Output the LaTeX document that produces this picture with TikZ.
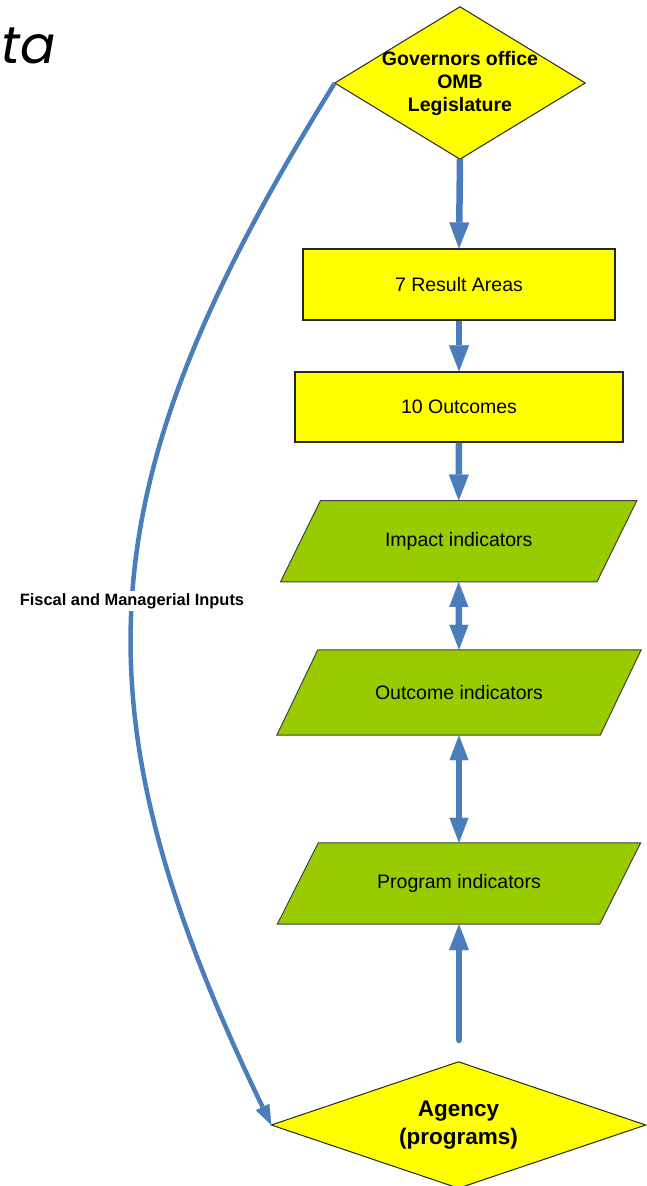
\documentclass[tikz,border=0pt]{standalone}
\usepackage{fontspec}
\setmainfont{Liberation Sans}
\newfontfamily\titlefont{Poppins}
\usetikzlibrary{arrows.meta,backgrounds}
\definecolor{ayellow}{HTML}{FFFF00}
\definecolor{agreen}{HTML}{99CC00}
\definecolor{ablue}{HTML}{4A7EBB}
\begin{document}
\begin{tikzpicture}[x=1pt,y=-1pt,
  box/.style={draw=black!85, line width=1.2pt, fill=ayellow, inner sep=0pt, font=\fontsize{19.5}{23}\selectfont},
  para/.style={inner sep=0pt, font=\fontsize{19.5}{23}\selectfont},
  parashape/.style={draw=black!75, line width=1pt, fill=agreen},
  dia/.style={inner sep=0pt, align=center, font=\bfseries\fontsize{19.5}{23}\selectfont},
  diashape/.style={draw=black!85, line width=1pt, fill=ayellow},
  flow/.style={draw=ablue, line width=6.5pt, -{Triangle[length=26pt,width=20pt,line width=0.1pt]}},
  dflow/.style={draw=ablue, line width=6.5pt, {Triangle[length=25pt,width=19pt,line width=0.1pt]}-{Triangle[length=25pt,width=19pt,line width=0.1pt]}},
  curvearrow/.style={draw=ablue, line width=4.5pt, -{Triangle[length=20pt,width=15pt,line width=0.1pt]}},
]
\useasboundingbox (0,0) rectangle (646,1186);

% title fragment
\node[font=\titlefont\itshape\fontsize{52}{60}\selectfont, anchor=base west, inner sep=0pt] (ttl) at (1,63) {ta};

% top diamond
\node[dia, minimum width=250pt, minimum height=152pt] (gov) at (460,83) {Governors office\\OMB\\Legislature};
\begin{scope}[on background layer]
  \path[diashape] (gov.north) -- (gov.east) -- (gov.south) -- (gov.west) -- cycle;
\end{scope}

% boxes
\node[box, minimum width=312pt, minimum height=71pt] (res) at (459,284.5) {7 Result Areas};
\node[box, minimum width=328pt, minimum height=70pt] (outc) at (459,407) {10 Outcomes};

% parallelograms
\node[para, minimum width=316pt, minimum height=81pt] (imp) at (458.7,541.2) {Impact indicators};
\node[para, minimum width=323pt, minimum height=85pt] (oind) at (459,692.5) {Outcome indicators};
\node[para, minimum width=322pt, minimum height=81pt] (pind) at (459,883.5) {Program indicators};
\begin{scope}[on background layer]
  \path[parashape] ([xshift=20pt]imp.north west) -- ([xshift=20pt]imp.north east) -- ([xshift=-20pt]imp.south east) -- ([xshift=-20pt]imp.south west) -- cycle;
  \path[parashape] ([xshift=20.5pt]oind.north west) -- ([xshift=20.5pt]oind.north east) -- ([xshift=-20.5pt]oind.south east) -- ([xshift=-20.5pt]oind.south west) -- cycle;
  \path[parashape] ([xshift=20.5pt]pind.north west) -- ([xshift=20.5pt]pind.north east) -- ([xshift=-20.5pt]pind.south east) -- ([xshift=-20.5pt]pind.south west) -- cycle;
\end{scope}

% bottom diamond
\node[dia, font=\bfseries\fontsize{22.5}{28}\selectfont, minimum width=374pt, minimum height=126pt] (ag) at (458.5,1125) {Agency\\(programs)};
\begin{scope}[on background layer]
  \path[diashape] (ag.north) -- (ag.east) -- (ag.south) -- (ag.west) -- cycle;
\end{scope}

% connectors
\draw[flow] (gov.south) -- (res.north);
\draw[flow] (res.south) -- (outc.north);
\draw[flow] (outc.south) -- (imp.north);
\draw[dflow] (imp.south) -- (oind.north);
\draw[dflow] (oind.south) -- (pind.north);
\coordinate (upstart) at (459,1040);
\draw[flow, line cap=round] (upstart) -- (pind.south);

\draw[curvearrow] (gov.west) .. controls (88,480) and (66,700) .. (ag.west);
\node[fill=white, inner sep=2.5pt, font=\bfseries\fontsize{16.4}{19}\selectfont] (fisc) at (132,601) {Fiscal and Managerial Inputs};
\end{tikzpicture}
\end{document}
